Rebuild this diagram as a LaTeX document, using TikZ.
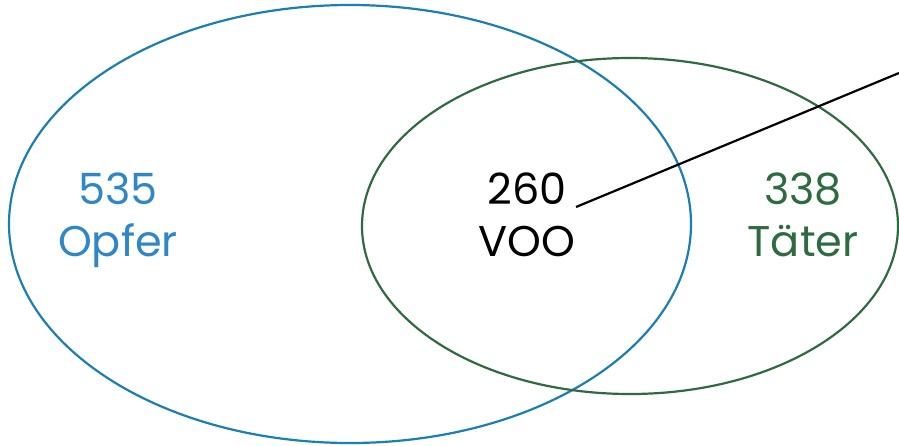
\documentclass[tikz,border=0pt]{standalone}
\usepackage{fontspec}
\setmainfont{Poppins}
\definecolor{opblue}{HTML}{1B7FB2}
\definecolor{optext}{HTML}{2F86C8}
\definecolor{tgreen}{HTML}{2F6B40}
\begin{document}
\begin{tikzpicture}[x=1pt,y=-1pt,
  lbl/.style={font=\fontsize{43}{50}\selectfont, anchor=base, inner sep=0pt},
  ring/.style={line width=2.2pt}]
\useasboundingbox (0,0) rectangle (899,445);
\draw[ring, opblue] (350,224) ellipse [x radius=341, y radius=219];
\draw[ring, tgreen] (630,226) ellipse [x radius=268, y radius=168];
\node[lbl, text=optext] (n535) at (118,204) {535};
\node[lbl, text=optext] (nopf) at (118,256) {Opfer};
\node[lbl, text=black] (n260) at (527,204) {260};
\node[lbl, text=black] (nvoo) at (527,256) {VOO};
\node[lbl, text=tgreen] (n338) at (803,204) {338};
\node[lbl, text=tgreen] (ntat) at (803,256) {Täter};
\coordinate (ls) at (576,207);
\coordinate (le) at (899,73);
\draw[line width=2.2pt] (ls) -- (le);
\end{tikzpicture}
\end{document}
